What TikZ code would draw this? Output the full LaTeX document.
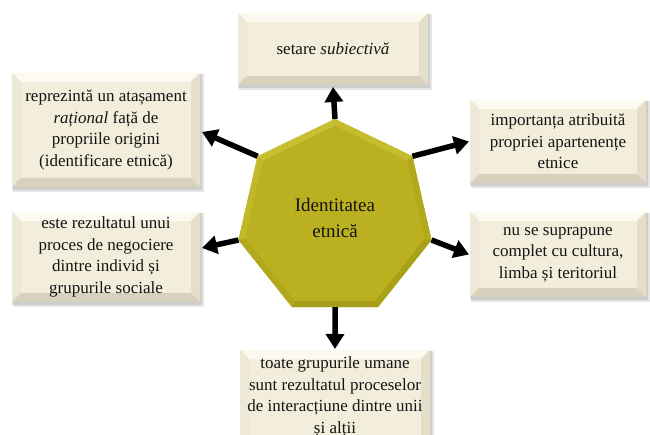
\documentclass[tikz,border=0pt]{standalone}
\usepackage{fontspec}
\setmainfont{Liberation Serif}
\usetikzlibrary{shapes.geometric,arrows.meta,backgrounds,calc}
\definecolor{boxbase}{RGB}{243,238,220}
\definecolor{boxtop}{RGB}{251,249,240}
\definecolor{boxleft}{RGB}{238,233,214}
\definecolor{boxright}{RGB}{228,222,203}
\definecolor{boxbot}{RGB}{215,209,190}
\definecolor{hepbase}{RGB}{186,176,32}
\definecolor{hepA}{RGB}{200,191,50}
\definecolor{hepB}{RGB}{194,185,42}
\definecolor{hepC}{RGB}{178,168,29}
\definecolor{hepD}{RGB}{166,157,25}
\definecolor{hepE}{RGB}{170,161,26}
\definecolor{hepF}{RGB}{178,169,29}
\definecolor{hepG}{RGB}{197,188,46}
\definecolor{txt}{RGB}{20,20,20}
\tikzset{
  cbox/.style={rectangle, inner sep=0pt, outer sep=0pt, align=center, text=txt,
    font=\fontsize{17}{21.5}\selectfont},
  hepnode/.style={regular polygon, regular polygon sides=7, minimum size=198pt,
    inner sep=0pt, outer sep=0pt, align=center, text=txt,
    font=\fontsize{19}{26}\selectfont},
  bigarrow/.style={line width=5.5pt, -{Triangle[length=15pt,width=18pt]}, black}
}
\newcommand\bevelbox[2]{%
  \begin{scope}[on background layer]
    \fill[black,opacity=0.10] ([xshift=1pt,yshift=-1pt]#1.north west) rectangle ([xshift=4pt,yshift=-5pt]#1.south east);
    \fill[black,opacity=0.10] ([xshift=0pt,yshift=-1pt]#1.north west) rectangle ([xshift=2pt,yshift=-3pt]#1.south east);
    \fill[boxbase] (#1.north west) rectangle (#1.south east);
    \fill[boxtop] (#1.north west) -- (#1.north east) -- ([xshift=-#2,yshift=-#2]#1.north east) -- ([xshift=#2,yshift=-#2]#1.north west) -- cycle;
    \fill[boxleft] (#1.north west) -- (#1.south west) -- ([xshift=#2,yshift=#2]#1.south west) -- ([xshift=#2,yshift=-#2]#1.north west) -- cycle;
    \fill[boxright] (#1.north east) -- (#1.south east) -- ([xshift=-#2,yshift=#2]#1.south east) -- ([xshift=-#2,yshift=-#2]#1.north east) -- cycle;
    \fill[boxbot] (#1.south west) -- (#1.south east) -- ([xshift=-#2,yshift=#2]#1.south east) -- ([xshift=#2,yshift=#2]#1.south west) -- cycle;
  \end{scope}}
\begin{document}
\begin{tikzpicture}[x=1pt,y=-1pt]
\begin{scope}[on background layer]
  \fill[white] (0,0) rectangle (650,435);
\end{scope}
\useasboundingbox (0,0) rectangle (650,435);

\node[cbox, minimum width=190pt, minimum height=72pt] (tb) at (333,49) {setare \textit{subiectivă}};
\node[cbox, minimum width=188pt, minimum height=114pt] (tl) at (106,130) {reprezintă un atașament\\\textit{rațional} față de\\propriile origini\\(identificare etnică)};
\node[cbox, minimum width=176pt, minimum height=83pt] (tr) at (558,141.5) {importanța atribuită\\propriei apartenențe\\etnice};
\node[cbox, minimum width=188pt, minimum height=90pt] (bl) at (106,257) {este rezultatul unui\\proces de negociere\\dintre individ și\\grupurile sociale};
\node[cbox, minimum width=176pt, minimum height=85pt] (br) at (558,254.5) {nu se suprapune\\complet cu cultura,\\limba și teritoriul};
\node[cbox, minimum width=190pt, minimum height=94pt] (bb) at (335,397) {toate grupurile umane\\sunt rezultatul proceselor\\de interacțiune dintre unii\\și alții};

\foreach \n in {tb,tl,tr,bl,br,bb} {\bevelbox{\n}{9pt}}

\node[hepnode] (hep) at (335,218) {Identitatea\\etnică};
\begin{scope}[on background layer]
  \fill[hepbase] (hep.corner 1) -- (hep.corner 2) -- (hep.corner 3) -- (hep.corner 4) -- (hep.corner 5) -- (hep.corner 6) -- (hep.corner 7) -- cycle;
  \foreach \a/\b/\c in {1/2/hepA,2/3/hepB,3/4/hepC,4/5/hepD,5/6/hepE,6/7/hepF,7/1/hepG}
    \fill[\c] (hep.corner \a) -- (hep.corner \b) -- ($(hep.center)!0.93!(hep.corner \b)$) -- ($(hep.center)!0.93!(hep.corner \a)$) -- cycle;
  \fill[hepbase] ($(hep.center)!0.93!(hep.corner 1)$) \foreach \k in {2,...,7} { -- ($(hep.center)!0.93!(hep.corner \k)$) } -- cycle;
\end{scope}

\draw[bigarrow] (hep.corner 1) -- ([yshift=-2pt]tb.south);
\draw[bigarrow] (hep.corner 2) -- ([xshift=2pt,yshift=-2pt]tl.east);
\draw[bigarrow] (hep.corner 3) -- ([xshift=2pt,yshift=9pt]bl.east);
\draw[bigarrow] (hep.corner 7) -- ([xshift=-1pt]tr.west);
\draw[bigarrow] (hep.corner 6) -- ([xshift=-1pt]br.west);
\draw[bigarrow] (hep.south) -- ([yshift=1pt]bb.north);
\end{tikzpicture}
\end{document}
